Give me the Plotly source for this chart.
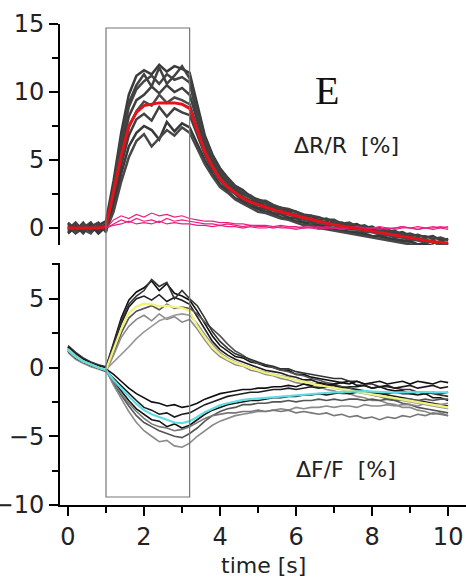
import plotly.graph_objects as go

# ---------------- data ----------------
TIME = [round(0.2 * i, 1) for i in range(51)]  # time axis in s, 0.0 .. 10.0

# top panel: dR/R [%]
DRR_MEAN = [0.0, 0.0, 0.0, 0.0, 0.0, 0.1, 2.6, 5.3, 7.5, 8.5, 9.0, 9.1, 9.2, 9.2, 9.2, 9.1, 8.8,
            7.2, 5.6, 4.5, 3.6, 3.0, 2.6, 2.2, 1.9, 1.7, 1.5, 1.35, 1.2, 1.05, 0.9, 0.75, 0.6, 0.5,
            0.35, 0.25, 0.15, 0.05, -0.05, -0.15, -0.25, -0.35, -0.45, -0.55, -0.65, -0.75, -0.85,
            -0.9, -1.0, -1.05, -1.1]

DRR_TRIALS = [
    [0.3, -0.2, 0.4, -0.3, 0.2, 0.5, 3.5, 7.0, 9.8, 11.2, 11.6, 11.3, 12.0, 11.5, 11.9, 11.7, 11.4,
     9.0, 6.8, 5.4, 4.4, 3.7, 3.1, 2.8, 2.3, 2.1, 1.9, 1.6, 1.5, 1.3, 1.2, 0.9, 0.9, 0.6, 0.7, 0.4,
     0.4, 0.2, 0.3, 0.0, 0.1, -0.2, -0.1, -0.4, -0.3, -0.6, -0.5, -0.7, -0.6, -0.9, -0.8],
    [-0.3, 0.2, -0.4, 0.3, -0.2, 0.0, 2.8, 6.2, 8.9, 10.2, 10.8, 11.2, 10.6, 11.3, 10.9, 11.1, 10.7,
     8.2, 6.3, 5.0, 4.0, 3.4, 2.9, 2.5, 2.2, 1.9, 1.8, 1.5, 1.4, 1.1, 1.0, 0.9, 0.6, 0.6, 0.3, 0.4,
     0.1, 0.2, -0.1, 0.0, -0.3, -0.2, -0.5, -0.4, -0.7, -0.6, -0.9, -0.8, -1.1, -1.0, -1.2],
    [0.1, -0.4, 0.0, 0.4, -0.3, 0.2, 2.4, 5.6, 8.2, 9.4, 9.8, 10.4, 9.9, 10.5, 10.0, 10.3, 9.8,
     7.8, 6.0, 4.8, 3.9, 3.2, 2.8, 2.3, 2.0, 1.9, 1.6, 1.5, 1.2, 1.2, 0.9, 0.8, 0.7, 0.4, 0.5, 0.2,
     0.3, 0.0, 0.1, -0.2, -0.1, -0.4, -0.3, -0.6, -0.5, -0.8, -0.7, -1.0, -0.9, -1.2, -1.1],
    [-0.2, 0.3, -0.1, -0.4, 0.3, -0.1, 2.0, 5.0, 7.4, 8.6, 9.3, 9.0, 9.8, 9.2, 9.6, 9.4, 9.1,
     7.4, 5.7, 4.6, 3.7, 3.1, 2.6, 2.3, 1.9, 1.7, 1.5, 1.3, 1.1, 1.0, 0.8, 0.6, 0.5, 0.4, 0.2, 0.2,
     0.0, -0.1, -0.1, -0.3, -0.3, -0.5, -0.5, -0.7, -0.7, -0.9, -0.9, -1.1, -1.0, -1.3, -1.2],
    [0.4, -0.1, 0.2, -0.2, 0.0, 0.3, 1.8, 4.6, 6.8, 8.0, 8.4, 7.9, 8.9, 8.2, 8.8, 8.5, 8.3,
     6.9, 5.4, 4.3, 3.5, 2.9, 2.5, 2.0, 1.8, 1.5, 1.4, 1.1, 1.0, 0.8, 0.7, 0.4, 0.4, 0.2, 0.1, 0.0,
     -0.1, -0.3, -0.3, -0.4, -0.6, -0.6, -0.7, -0.9, -0.9, -1.0, -1.2, -1.2, -1.3, -1.5, -1.5],
    [-0.4, 0.1, -0.3, 0.2, -0.4, 0.1, 1.5, 4.0, 6.0, 7.0, 7.5, 7.2, 6.5, 7.8, 7.1, 7.7, 7.4,
     6.2, 5.0, 4.0, 3.2, 2.7, 2.2, 1.9, 1.6, 1.4, 1.2, 1.0, 0.8, 0.7, 0.5, 0.4, 0.2, 0.2, 0.0, -0.1,
     -0.2, -0.3, -0.4, -0.5, -0.6, -0.6, -0.8, -0.8, -1.0, -1.0, -1.2, -1.2, -1.4, -1.4, -1.6],
    [0.2, -0.3, 0.3, -0.1, 0.2, -0.2, 1.2, 3.4, 5.2, 6.4, 6.9, 6.0, 6.6, 7.2, 6.8, 7.4, 7.0,
     5.9, 4.7, 3.8, 3.0, 2.6, 2.1, 1.8, 1.5, 1.2, 1.1, 0.9, 0.7, 0.6, 0.4, 0.2, 0.2, 0.0, -0.1, -0.2,
     -0.3, -0.4, -0.5, -0.6, -0.7, -0.8, -0.9, -1.0, -1.1, -1.2, -1.3, -1.4, -1.5, -1.6, -1.7],
    [-0.1, 0.4, -0.2, 0.1, 0.4, -0.3, 3.0, 6.6, 9.2, 10.5, 11.3, 10.4, 11.8, 10.6, 11.2, 11.9, 11.0,
     8.6, 6.5, 5.2, 4.2, 3.6, 3.0, 2.6, 2.4, 2.0, 2.0, 1.7, 1.5, 1.4, 1.2, 1.0, 0.9, 0.8, 0.6, 0.6,
     0.3, 0.4, 0.1, 0.2, -0.1, 0.0, -0.3, -0.2, -0.5, -0.4, -0.6, -0.6, -0.8, -0.7, -0.9],
]

DRR_CONTROL = [
    [None, None, None, None, None, 0.0, 0.6, 0.9, 0.7, 1.0, 0.8, 1.1, 0.9, 1.0, 0.8, 0.9, 0.7,
     0.6, 0.5, 0.5, 0.4, 0.4, 0.3, 0.3, 0.2, 0.2, 0.2, 0.1, 0.2, 0.1, 0.1, 0.0, 0.1, 0.0, 0.1, 0.0,
     0.0, 0.1, 0.0, -0.1, 0.0, 0.0, -0.1, 0.0, 0.1, 0.0, -0.1, 0.0, 0.1, 0.0, -0.1],
    [None, None, None, None, None, 0.0, 0.3, 0.6, 0.4, 0.7, 0.5, 0.6, 0.4, 0.7, 0.5, 0.6, 0.5,
     0.4, 0.3, 0.3, 0.2, 0.3, 0.2, 0.1, 0.2, 0.1, 0.1, 0.0, 0.1, 0.0, 0.0, 0.1, 0.0, -0.1, 0.0, 0.0,
     -0.1, 0.0, 0.0, -0.1, 0.0, 0.1, 0.0, -0.1, 0.0, 0.0, 0.1, 0.0, -0.1, 0.0, 0.1],
    [None, None, None, None, None, 0.0, 0.2, 0.3, 0.5, 0.3, 0.4, 0.3, 0.5, 0.3, 0.4, 0.3, 0.3,
     0.2, 0.2, 0.1, 0.2, 0.1, 0.1, 0.0, 0.1, 0.0, 0.0, 0.1, 0.0, 0.0, -0.1, 0.0, 0.0, 0.1, 0.0, 0.0,
     -0.1, 0.0, 0.1, 0.0, 0.0, -0.1, 0.0, 0.0, 0.1, 0.0, -0.1, 0.0, 0.0, 0.1, 0.0],
]

# bottom panel: dF/F [%]
DFF_UP_MEAN = [1.3, 0.8, 0.45, 0.2, 0.0, -0.15, 1.3, 2.8, 3.95, 4.45, 4.65, 4.6, 4.45, 4.5, 4.4,
               4.35, 4.1, 3.0, 2.2, 1.45, 0.95, 0.6, 0.35, 0.15, -0.05, -0.25, -0.4, -0.52, -0.63,
               -0.78, -0.92, -1.05, -1.18, -1.28, -1.38, -1.48, -1.58, -1.68, -1.77, -1.87, -1.96,
               -2.05, -2.14, -2.22, -2.32, -2.42, -2.52, -2.62, -2.72, -2.82, -2.9]
DFF_DOWN_MEAN = [1.3, 0.8, 0.45, 0.2, 0.0, -0.2, -0.9, -1.5, -2.1, -2.65, -3.1, -3.4, -3.6, -3.8,
                 -4.0, -4.05, -3.9, -3.6, -3.25, -3.0, -2.75, -2.6, -2.45, -2.35, -2.3, -2.25, -2.2,
                 -2.15, -2.1, -2.05, -2.0, -1.95, -1.9, -1.85, -1.82, -1.8, -1.78, -1.75, -1.72,
                 -1.72, -1.75, -1.78, -1.8, -1.82, -1.8, -1.78, -1.8, -1.78, -1.8, -1.78, -1.8]

DFF_UP_TRIALS = [
    [1.5, 1.0, 0.6, 0.35, 0.15, 0.0, 1.8, 3.6, 4.9, 5.5, 5.8, 6.3, 5.6, 6.1, 5.4, 5.2, 4.9, 4.1, 3.2,
     2.3, 1.6, 1.2, 0.8, 0.7, 0.4, 0.3, 0.1, 0.0, -0.2, -0.2, -0.5, -0.5, -0.7, -0.8, -0.9, -1.0,
     -1.1, -1.0, -1.3, -1.3, -1.5, -1.4, -1.6, -1.7, -1.7, -1.9, -2.0, -1.9, -2.2, -2.2, -2.4],
    [1.2, 0.7, 0.4, 0.1, -0.05, -0.25, 1.5, 3.2, 4.4, 5.0, 5.2, 4.9, 5.3, 4.8, 5.1, 4.9, 4.6, 3.7,
     2.7, 1.9, 1.3, 0.9, 0.6, 0.4, 0.2, 0.0, -0.2, -0.3, -0.4, -0.6, -0.7, -0.9, -0.9, -1.1, -1.2,
     -1.3, -1.4, -1.5, -1.6, -1.7, -1.8, -1.9, -2.0, -2.1, -2.2, -2.3, -2.4, -2.5, -2.6, -2.7, -2.8],
    [1.4, 0.9, 0.5, 0.25, 0.05, -0.1, 1.0, 2.5, 3.6, 4.1, 4.3, 4.5, 4.2, 4.6, 4.3, 4.4, 4.3, 3.9,
     3.3, 2.8, 2.3, 1.7, 1.2, 0.9, 0.5, 0.3, 0.2, 0.0, -0.2, -0.3, -0.5, -0.6, -0.8, -0.9, -1.1,
     -1.2, -1.4, -1.5, -1.7, -1.8, -2.0, -2.1, -2.3, -2.4, -2.6, -2.7, -2.9, -3.0, -3.1, -3.2, -3.3],
    [1.1, 0.6, 0.3, 0.05, -0.1, -0.3, 0.9, 2.2, 3.0, 3.5, 3.8, 3.4, 3.9, 3.5, 3.7, 3.3, 3.5, 2.8,
     2.0, 1.3, 0.8, 0.5, 0.2, 0.1, -0.2, -0.3, -0.5, -0.6, -0.8, -0.9, -1.1, -1.2, -1.4, -1.4, -1.6,
     -1.7, -1.9, -1.9, -2.1, -2.2, -2.4, -2.4, -2.6, -2.7, -2.9, -2.9, -3.1, -3.2, -3.4, -3.3, -3.5],
    [1.3, 0.8, 0.45, 0.2, 0.0, -0.15, 0.4, 0.9, 1.5, 2.1, 2.6, 3.0, 3.4, 3.6, 3.8, 3.9, 3.8, 3.2,
     2.4, 1.7, 1.1, 0.7, 0.4, 0.2, 0.0, -0.2, -0.3, -0.5, -0.6, -0.7, -0.9, -1.0, -1.1, -1.3, -1.3,
     -1.5, -1.6, -1.7, -1.8, -1.9, -2.0, -2.1, -2.2, -2.3, -2.4, -2.5, -2.6, -2.7, -2.8, -2.9, -3.0],
    [1.6, 1.1, 0.7, 0.4, 0.2, 0.05, 1.7, 3.4, 4.6, 5.2, 5.6, 6.4, 5.9, 6.2, 5.0, 5.6, 5.0, 4.5, 3.6,
     2.6, 1.9, 1.4, 1.0, 0.8, 0.6, 0.4, 0.2, 0.1, -0.1, -0.1, -0.3, -0.4, -0.5, -0.6, -0.7, -0.8,
     -0.8, -1.0, -1.0, -1.2, -1.2, -1.4, -1.4, -1.5, -1.6, -1.6, -1.8, -1.8, -1.9, -2.0, -2.1],
]

DFF_DOWN_TRIALS = [
    [1.4, 0.9, 0.5, 0.25, 0.05, -0.1, -0.5, -1.0, -1.5, -1.9, -2.2, -2.5, -2.6, -2.8, -2.7, -2.9,
     -2.8, -2.6, -2.3, -2.1, -1.9, -1.8, -1.7, -1.6, -1.6, -1.5, -1.5, -1.4, -1.4, -1.3, -1.4, -1.2,
     -1.3, -1.1, -1.3, -1.2, -1.1, -1.2, -1.0, -1.2, -1.1, -1.0, -1.2, -1.1, -1.0, -1.2, -1.0, -1.1,
     -1.2, -1.0, -1.1],
    [1.2, 0.7, 0.4, 0.15, -0.05, -0.25, -0.8, -1.3, -1.9, -2.4, -2.9, -3.1, -3.4, -3.3, -3.6, -3.4,
     -3.3, -3.0, -2.7, -2.5, -2.3, -2.1, -2.0, -1.9, -1.8, -1.8, -1.7, -1.6, -1.6, -1.5, -1.6, -1.5,
     -1.4, -1.5, -1.4, -1.3, -1.5, -1.4, -1.4, -1.3, -1.5, -1.4, -1.3, -1.5, -1.4, -1.3, -1.5, -1.4,
     -1.3, -1.5, -1.4],
    [1.5, 1.0, 0.6, 0.3, 0.1, -0.05, -1.0, -1.7, -2.4, -3.0, -3.4, -3.8, -3.9, -4.3, -4.1, -4.4,
     -4.2, -3.8, -3.4, -3.1, -2.9, -2.7, -2.6, -2.5, -2.4, -2.4, -2.3, -2.2, -2.2, -2.1, -2.1, -2.0,
     -2.0, -1.9, -2.0, -1.9, -1.8, -1.9, -1.8, -1.8, -1.9, -1.8, -1.9, -1.8, -1.9, -1.9, -1.8, -1.9,
     -1.8, -1.9, -1.8],
    [1.3, 0.8, 0.45, 0.2, 0.0, -0.2, -1.2, -2.0, -2.8, -3.5, -4.0, -4.3, -4.6, -4.8, -5.0, -5.1,
     -4.8, -4.4, -3.9, -3.5, -3.2, -3.0, -2.9, -2.7, -2.7, -2.6, -2.6, -2.5, -2.5, -2.4, -2.5, -2.4,
     -2.4, -2.3, -2.4, -2.3, -2.4, -2.3, -2.3, -2.4, -2.3, -2.4, -2.3, -2.4, -2.3, -2.3, -2.4, -2.3,
     -2.4, -2.3, -2.3],
    [1.4, 0.9, 0.5, 0.2, 0.0, -0.15, -1.3, -2.3, -3.2, -4.0, -4.6, -5.0, -5.4, -5.3, -5.7, -5.8,
     -5.5, -5.0, -4.6, -4.2, -3.9, -3.7, -3.5, -3.4, -3.3, -3.2, -3.2, -3.1, -3.0, -3.1, -2.9, -3.0,
     -2.9, -2.9, -2.8, -2.9, -2.8, -2.8, -2.9, -2.7, -2.8, -2.8, -2.7, -2.8, -2.7, -2.7, -2.8, -2.6,
     -2.7, -2.7, -2.6],
    [1.2, 0.75, 0.4, 0.15, -0.05, -0.2, -1.1, -1.9, -2.6, -3.2, -3.7, -4.1, -4.3, -4.4, -4.6, -4.5,
     -4.3, -4.0, -3.7, -3.5, -3.4, -3.3, -3.3, -3.2, -3.2, -3.1, -3.2, -3.1, -3.2, -3.1, -3.3, -3.2,
     -3.3, -3.4, -3.3, -3.5, -3.4, -3.6, -3.5, -3.7, -3.6, -3.8, -3.6, -3.7, -3.5, -3.6, -3.4, -3.5,
     -3.3, -3.4, -3.5],
]

STIM_START, STIM_END = 1.0, 3.2
X_TICKS = [0, 2, 4, 6, 8, 10]

for s in [DRR_MEAN, DFF_UP_MEAN, DFF_DOWN_MEAN] + DRR_TRIALS + DRR_CONTROL + DFF_UP_TRIALS + DFF_DOWN_TRIALS:
    assert len(s) == len(TIME), len(s)

# ---------------- figure ----------------
FONT = "DejaVu Sans"
fig = go.Figure()

top_gray = ["#3a3a3a", "#454545", "#3f3f3f", "#4a4a4a", "#404040", "#383838", "#474747", "#424242"]
for i, tr in enumerate(DRR_TRIALS):
    fig.add_trace(go.Scatter(x=TIME, y=tr, mode="lines", xaxis="x2", yaxis="y2",
                             line=dict(color=top_gray[i], width=2.5), hoverinfo="skip", showlegend=False))
for tr in DRR_CONTROL:
    fig.add_trace(go.Scatter(x=TIME, y=tr, mode="lines", xaxis="x2", yaxis="y2",
                             line=dict(color="#e8207f", width=1.2), hoverinfo="skip", showlegend=False))
fig.add_trace(go.Scatter(x=TIME, y=DRR_MEAN, mode="lines", xaxis="x2", yaxis="y2",
                         line=dict(color="#e3121b", width=3), showlegend=False))

up_col = ["#111111", "#1e1e1e", "#555555", "#8a8a8a", "#9a9a9a", "#333333"]
down_col = ["#111111", "#1e1e1e", "#141414", "#555555", "#8a8a8a", "#777777"]
for i, tr in enumerate(DFF_UP_TRIALS):
    fig.add_trace(go.Scatter(x=TIME, y=tr, mode="lines", xaxis="x", yaxis="y",
                             line=dict(color=up_col[i], width=1.6), hoverinfo="skip", showlegend=False))
for i, tr in enumerate(DFF_DOWN_TRIALS):
    fig.add_trace(go.Scatter(x=TIME, y=tr, mode="lines", xaxis="x", yaxis="y",
                             line=dict(color=down_col[i], width=1.6), hoverinfo="skip", showlegend=False))
fig.add_trace(go.Scatter(x=TIME, y=DFF_UP_MEAN, mode="lines", xaxis="x", yaxis="y",
                         line=dict(color="#f2f27a", width=2.2), showlegend=False))
fig.add_trace(go.Scatter(x=TIME, y=DFF_DOWN_MEAN, mode="lines", xaxis="x", yaxis="y",
                         line=dict(color="#5fdce4", width=2.2), showlegend=False))

axis_common = dict(showline=True, linecolor="black", linewidth=2, ticks="outside", ticklen=9,
                   tickwidth=2, tickcolor="black", showgrid=False, zeroline=False, automargin=False,
                   tickfont=dict(family=FONT, size=24, color="#222"))

XR = [-0.21, 10.47]
fig.update_layout(
    width=466, height=581,
    margin=dict(l=60, r=0, t=24, b=76),
    paper_bgcolor="white", plot_bgcolor="white",
    showlegend=False,
    xaxis=dict(anchor="y", range=XR, tickvals=X_TICKS, **axis_common,
               minor=dict(dtick=1, tick0=0, ticks="outside", ticklen=6, tickwidth=2, tickcolor="black")),
    xaxis2=dict(anchor="y2", range=XR, matches="x", visible=False),
    yaxis=dict(domain=[0, 0.503], range=[-10, 7.6], tick0=0, dtick=5, **axis_common,
               minor=dict(dtick=2.5, tick0=0, ticks="outside", ticklen=6, tickwidth=2, tickcolor="black")),
    yaxis2=dict(domain=[0.5405, 1], range=[-1.25, 15], tick0=0, dtick=5, **axis_common,
                minor=dict(dtick=2.5, tick0=0, ticks="outside", ticklen=6, tickwidth=2, tickcolor="black")),
)

fig.add_shape(type="rect", xref="x", yref="paper", x0=STIM_START, x1=STIM_END, y0=0.0166, y1=0.9917,
              line=dict(color="#777", width=1.2), fillcolor="rgba(0,0,0,0)", layer="above")

# x-axis title placed below the tick labels
fig.add_annotation(x=0.5, y=-0.125, xref="paper", yref="paper", yanchor="middle", text="time [s]",
                   showarrow=False, font=dict(family=FONT, size=22, color="#222"))
fig.add_annotation(x=6.82, y=10.1, xref="x2", yref="y2", text="E", showarrow=False,
                   font=dict(family="Liberation Serif", size=40, color="#111"))
fig.add_annotation(x=7.33, y=6.1, xref="x2", yref="y2", text="\u0394R/R \u00a0[%]", showarrow=False,
                   font=dict(family=FONT, size=22, color="#222"))
fig.add_annotation(x=7.32, y=-7.42, xref="x", yref="y", text="\u0394F/F \u00a0[%]", showarrow=False,
                   font=dict(family=FONT, size=22, color="#222"))

fig.write_html("out.html", config={"displayModeBar": False},
               post_script="document.body.style.margin='0';")
